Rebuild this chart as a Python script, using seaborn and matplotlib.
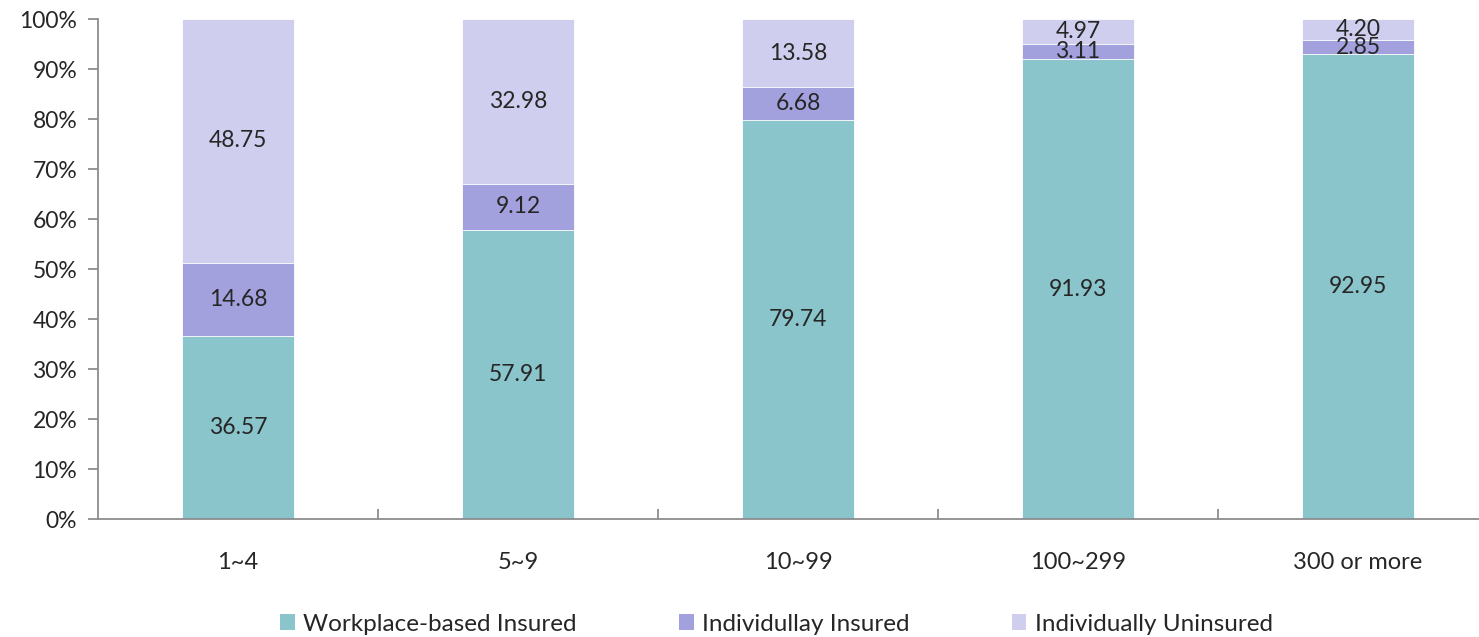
import seaborn as sns
import pandas as pd
import matplotlib.pyplot as plt
from matplotlib.patches import Patch
from matplotlib.ticker import FixedLocator, PercentFormatter

categories = ['1~4', '5~9', '10~99', '100~299', '300 or more']
workplace = [36.57, 57.91, 79.74, 91.93, 92.95]
individual = [14.68, 9.12, 6.68, 3.11, 2.85]
uninsured = [48.75, 32.98, 13.58, 4.97, 4.20]

series_names = ['Workplace-based Insured', 'Individullay Insured', 'Individually Uninsured']
colors = ['#8AC5CC', '#A3A1DD', '#CFCEEE']

sns.set_style('white')
plt.rcParams['font.family'] = ['Lato', 'DejaVu Sans']

df = pd.DataFrame({'group': categories, 'w': workplace, 'i': individual, 'u': uninsured})
df['c1'] = df['w']
df['c2'] = df['w'] + df['i']
df['c3'] = df['c2'] + df['u']

fig = plt.figure(figsize=(14.79, 6.37), dpi=100)
ax = fig.add_axes([0.0663, 0.185, 0.9466, 0.785])

# draw cumulative totals back to front
for col, color in zip(['c3', 'c2', 'c1'], colors[::-1]):
    sns.barplot(data=df, x='group', y=col, color=color, width=0.4,
                saturation=1, ax=ax, edgecolor='white', linewidth=0.6)

fs = 16.5
for i, row in df.iterrows():
    ax.text(i, row['w'] / 2, f"{row['w']:.2f}", ha='center', va='center', fontsize=fs)
    ax.text(i, row['c1'] + row['i'] / 2, f"{row['i']:.2f}", ha='center', va='center', fontsize=fs)
    ax.text(i, row['c2'] + row['u'] / 2, f"{row['u']:.2f}", ha='center', va='center', fontsize=fs)

ax.set_ylim(0, 100)
ax.set_xlim(-0.5, 4.5)
ax.yaxis.set_major_locator(FixedLocator(range(0, 101, 10)))
ax.yaxis.set_major_formatter(PercentFormatter(decimals=0))
ax.set_xlabel('')
ax.set_ylabel('')

for side in ['top', 'right']:
    ax.spines[side].set_visible(False)
for side in ['left', 'bottom']:
    ax.spines[side].set_color('#8C8C8C')
    ax.spines[side].set_linewidth(1.3)

ax.tick_params(axis='y', which='major', left=True, length=7, width=1.3,
               color='#8C8C8C', labelsize=16.5, pad=8)
ax.tick_params(axis='x', which='major', bottom=False, labelsize=17, pad=20)
ax.xaxis.set_minor_locator(FixedLocator([0.5, 1.5, 2.5, 3.5, 4.5]))
ax.tick_params(axis='x', which='minor', bottom=True, direction='in', length=7,
               width=1.3, color='#8C8C8C')

handles = [Patch(facecolor=c, edgecolor='none') for c in colors]
fig.legend(handles, series_names, loc='center', bbox_to_anchor=(0.525, 0.02),
           ncol=3, frameon=False, fontsize=17.5, handlelength=0.6, handleheight=0.6,
           handletextpad=0.35, columnspacing=4.2)

fig.savefig('out.png', dpi=100)
